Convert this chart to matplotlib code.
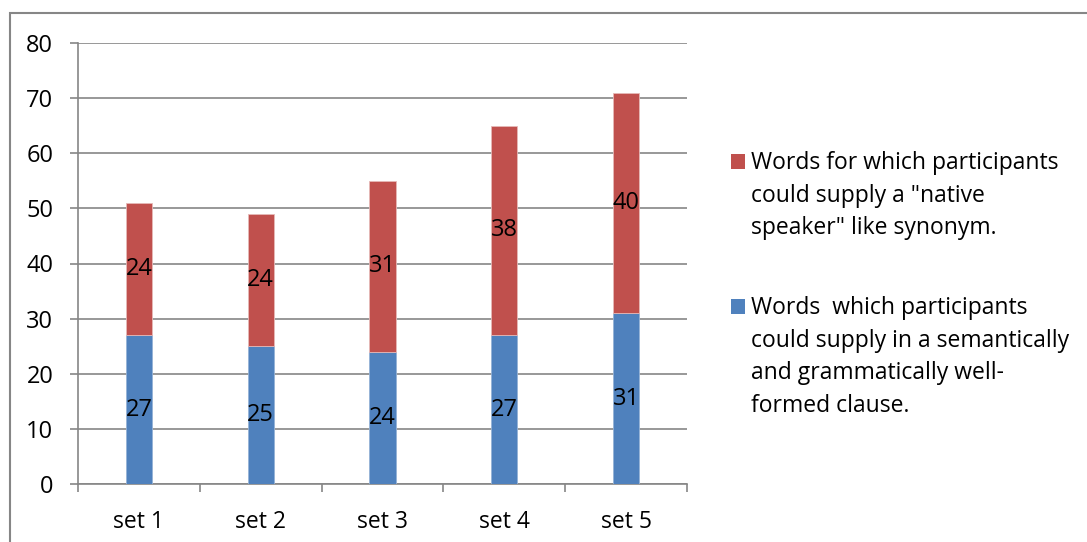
import matplotlib
matplotlib.use("Agg")
import matplotlib.pyplot as plt
from matplotlib.patches import Rectangle
import numpy as np

plt.rcParams['font.family'] = ['Open Sans', 'DejaVu Sans']

categories = ["set 1", "set 2", "set 3", "set 4", "set 5"]
clause_words = [27, 25, 24, 27, 31]
synonym_words = [24, 24, 31, 38, 40]
legend_labels = [
    "Words for which participants\ncould supply a \"native\nspeaker\" like synonym.",
    "Words  which participants\ncould supply in a semantically\nand grammatically well-\nformed clause.",
]
y_ticks = [0, 10, 20, 30, 40, 50, 60, 70, 80]

BLUE = "#4F81BD"
RED = "#C0504D"
GRID = "#868686"
FS = 17

W, H = 1087, 542
fig = plt.figure(figsize=(W / 100, H / 100), dpi=100)
ax = fig.add_axes([78 / W, 1 - 484 / H, (687 - 78) / W, (484 - 43) / H])

x = np.arange(len(categories)) + 0.5
bw = 0.215
ax.bar(x, clause_words, width=bw, color=BLUE, edgecolor="#95B3D7", linewidth=0.6, zorder=3)
ax.bar(x, synonym_words, width=bw, bottom=clause_words, color=RED,
       edgecolor="#E6B9B8", linewidth=0.6, zorder=3)

for xi, b, r in zip(x, clause_words, synonym_words):
    ax.text(xi, b / 2, str(b), ha="center", va="center", fontsize=FS, color="black", zorder=4)
    ax.text(xi, b + r / 2, str(r), ha="center", va="center", fontsize=FS, color="black", zorder=4)

ax.set_xlim(0, len(categories))
ax.set_ylim(0, 80)
ax.set_yticks(y_ticks)
ax.set_yticklabels([str(t) for t in y_ticks], fontsize=FS)
ax.set_xticks(x)
ax.set_xticklabels(categories, fontsize=FS - 0.5)
ax.set_xticks(np.arange(len(categories) + 1), minor=True)

ax.tick_params(axis="x", which="major", length=0, pad=19)
ax.tick_params(axis="x", which="minor", length=5.8, width=1.2, color=GRID, direction="out")
ax.tick_params(axis="y", length=5.8, width=1.2, color=GRID, direction="out", pad=12)

ax.grid(axis="y", color=GRID, linewidth=1.2, zorder=0)
ax.set_axisbelow(True)
for s in ("top", "right"):
    ax.spines[s].set_visible(False)
for s in ("left", "bottom"):
    ax.spines[s].set_color(GRID)
    ax.spines[s].set_linewidth(1.2)

# legend drawn as swatches + wrapped text
entries = [(RED, legend_labels[0], 154), (BLUE, legend_labels[1], 299)]
for color, label, top in entries:
    fig.patches.append(Rectangle((731 / W, 1 - (top + 15) / H), 14 / W, 15 / H,
                                 transform=fig.transFigure, facecolor=color,
                                 edgecolor="none", figure=fig))
    fig.text(751 / W, 1 - (top - 3) / H, label, ha="left", va="top",
             fontsize=16.5, linespacing=1.48)

# outer chart frame
fig.patches.append(Rectangle((10 / W, -0.1), 2.0, 1.1 - 13 / H, transform=fig.transFigure,
                             facecolor="none", edgecolor=GRID, linewidth=1.5, figure=fig))

fig.savefig("out.png", dpi=100)
